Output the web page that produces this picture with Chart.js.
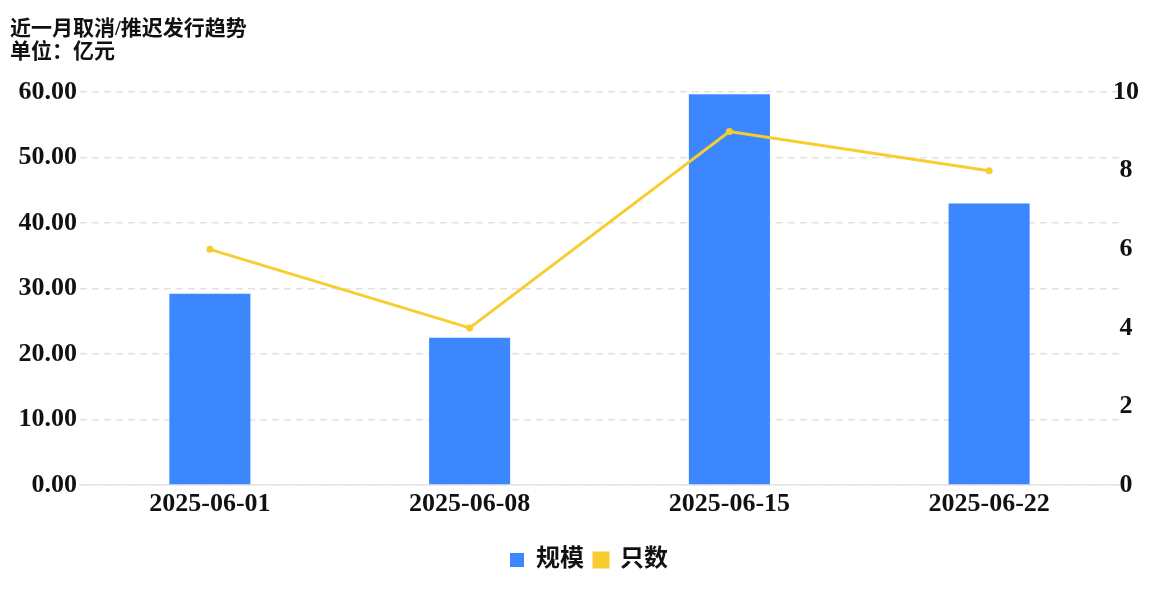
<!DOCTYPE html>
<html>
<head>
<meta charset="utf-8">
<script src="https://cdn.jsdelivr.net/npm/chart.js@4/dist/chart.umd.min.js"></script>
<style>
  html, body { margin: 0; padding: 0; background: #fff; }
  #wrap { width: 1168px; height: 590px; }
</style>
</head>
<body>
<div id="wrap"><canvas id="trend-canvas"></canvas></div>
<script>
var weeks = ["2025-06-01", "2025-06-08", "2025-06-15", "2025-06-22"];
var scaleValues = [29.2, 22.5, 59.7, 43.0];   // 规模 (亿元)
var countValues = [6, 4, 9, 8];               // 只数
var titleLines = ["近一月取消/推迟发行趋势", "单位：亿元"];

var FONT = "'Liberation Serif', 'Noto Sans CJK SC', serif";
var BLUE = "#3d87fe";
var YELLOW = "#f8cd30";

window.onload = function() {
    var ctx = document.getElementById("trend-canvas").getContext("2d");
    window.trendChart = new Chart(ctx, {
        type: 'bar',
        data: {
            labels: weeks,
            datasets: [{
                type: 'bar',
                label: '规模',
                data: scaleValues,
                backgroundColor: BLUE,
                yAxisID: 'y',
                order: 1,
                categoryPercentage: 1,
                barPercentage: 0.312
            }, {
                type: 'line',
                label: '只数',
                data: countValues,
                borderColor: YELLOW,
                backgroundColor: YELLOW,
                borderWidth: 3,
                pointRadius: 3.5,
                pointBackgroundColor: YELLOW,
                pointBorderWidth: 0,
                tension: 0,
                yAxisID: 'y1',
                order: 0
            }]
        },
        options: {
            responsive: true,
            maintainAspectRatio: false,
            animation: false,
            layout: {
                padding: { left: 10, right: 0, top: 8, bottom: 8 }
            },
            plugins: {
                title: {
                    display: true,
                    text: titleLines,
                    align: 'start',
                    color: '#111',
                    font: { family: FONT, size: 21, weight: 'bold', lineHeight: 1.1 },
                    padding: { top: 10, bottom: 28 }
                },
                legend: {
                    position: 'bottom',
                    labels: {
                        color: '#111',
                        boxWidth: 14,
                        boxHeight: 14,
                        padding: 10,
                        font: { family: FONT, size: 24, weight: 'bold' },
                        sort: function(a, b) { return a.datasetIndex - b.datasetIndex; }
                    }
                },
                tooltip: { enabled: false }
            },
            scales: {
                x: {
                    afterFit: function(axis) { axis.height = 53; },
                    grid: { display: false },
                    border: { display: true, color: '#e4e4e4', width: 1.5 },
                    ticks: {
                        color: '#111',
                        padding: -4,
                        font: { family: FONT, size: 26, weight: 'bold' }
                    }
                },
                y: {
                    position: 'left',
                    min: 0,
                    max: 60,
                    afterFit: function(axis) { axis.width = 70; },
                    border: { display: false, dash: [7, 5] },
                    grid: { color: '#e2e2e2', lineWidth: 1.5, drawTicks: false },
                    ticks: {
                        stepSize: 10,
                        padding: 3,
                        color: '#111',
                        font: { family: FONT, size: 26, weight: 'bold' },
                        callback: function(v) { return v.toFixed(2); }
                    }
                },
                y1: {
                    position: 'right',
                    min: 0,
                    max: 10,
                    afterFit: function(axis) {
                        axis.width = 49;
                        // labels reach a little into the plot, so don't clip them to the axis box
                        axis._computeLabelArea = function() {};
                    },
                    border: { display: false },
                    grid: { drawOnChartArea: false, drawTicks: false },
                    ticks: {
                        stepSize: 2,
                        padding: -6,
                        crossAlign: 'center',
                        color: '#111',
                        font: { family: FONT, size: 26, weight: 'bold' }
                    }
                }
            }
        }
    });
};
</script>
</body>
</html>
